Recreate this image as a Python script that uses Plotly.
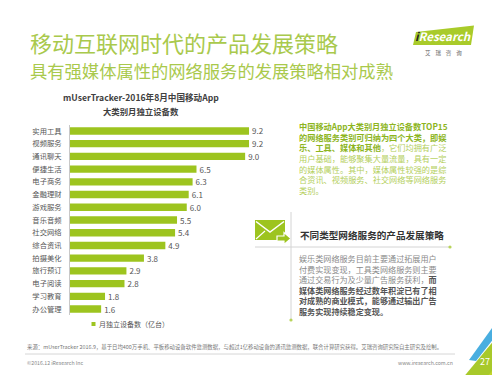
import plotly.graph_objects as go

categories = ["实用工具", "视频服务", "通讯聊天", "便捷生活", "电子商务", "金融理财", "游戏服务",
              "音乐音频", "社交网络", "综合资讯", "拍摄美化", "旅行预订", "电子阅读", "学习教育", "办公管理"]
values = [9.2, 9.2, 9.0, 6.5, 6.3, 6.1, 6.0, 5.5, 5.4, 4.9, 3.8, 2.9, 2.8, 1.8, 1.6]
series_name = "月独立设备数（亿台）"

W, H = 500, 375
OFF = 8  # the page body margin shifts the figure by 8px; compensate
FONT = "Noto Sans CJK SC"
BAR = "#9dc41f"
TITLE_G = "#a9c94c"


def X(px):
    return (px - OFF) / W


def Y(py):
    return 1 - (py - OFF) / H


fig = go.Figure()
fig.add_trace(go.Bar(
    y=categories, x=values, orientation="h", name=series_name,
    marker=dict(color=BAR, line=dict(width=0)),
    texttemplate="%{x:.1f}", textposition="outside", cliponaxis=False, constraintext="none",
    textfont=dict(size=8, color="#555555", family=FONT),
    showlegend=False,
))

ann = []


def add(text, x, y, size, color, xanchor="left", yanchor="middle", align="left"):
    ann.append(dict(text=text, x=X(x), y=Y(y), xref="paper", yref="paper",
                    xanchor=xanchor, yanchor=yanchor, align=align, showarrow=False,
                    font=dict(size=size, color=color, family=FONT)))


# main titles
add("移动互联网时代的产品发展策略", 28, 42, 22, TITLE_G)
add("具有强媒体属性的网络服务的发展策略相对成熟", 28, 70, 17.3, TITLE_G)

# chart title
add("<b>mUserTracker-2016年8月中国移动App</b>", 141, 97, 8.6, "#404040", xanchor="center")
add("<b>大类别月独立设备数</b>", 141, 111, 8.4, "#404040", xanchor="center")

# legend (manual)
add(series_name, 97, 324, 7, "#555555")

# right block
g1 = "#8db51e"
g2 = "#b4cf5c"
right_txt = (f"<b><span style='color:{g1}'>中国移动App大类别月独立设备数TOP15<br>"
             f"的网络服务类别可归纳为四个大类，即娱<br>"
             f"乐、工具、媒体和其他</span></b><span style='color:{g2}'>，它们均拥有广泛<br>"
             f"用户基础，能够聚集大量流量，具有一定<br>"
             f"的媒体属性。其中，媒体属性较强的是综<br>"
             f"合资讯、视频服务、社交网络等网络服务<br>"
             f"类别。</span>")
add(right_txt, 297, 158, 8.2, g2)

add("<b>不同类型网络服务的产品发展策略</b>", 298, 235, 9.6, "#333333")

body = ("<span style='color:#8a8a8a'>娱乐类网络服务目前主要通过拓展用户<br>"
        "付费实现变现，工具类网络服务则主要<br>"
        "通过交易行为及少量广告服务获利，</span><b><span style='color:#555555'>而<br>"
        "媒体类网络服务经过数年积淀已有了相<br>"
        "对成熟的商业模式，能够通过输出广告<br>"
        "服务实现持续稳定变现。</span></b>")
add(body, 297, 285, 8.1, "#8a8a8a")

# logo
add("<i><b><span style='color:#222'>i</span>Research</b></i>", 443, 36.5, 11.5, "white", xanchor="center")
add("艾    瑞    咨    询", 443, 53, 5.5, "#666666", xanchor="center")

# footer
add("来源：mUserTracker 2016.9，基于日均400万手机、平板移动设备软件监测数据，与超过1亿移动设备的通讯监测数据，联合计算研究获得。艾瑞咨询研究院自主研究及绘制。",
    25, 347, 5.4, "#777777")
add("©2016.12 iResearch Inc", 25, 362, 5.2, "#888888")
add("www.iresearch.com.cn", 455, 362, 5.2, "#888888", xanchor="right")

shapes = []


def path(d, fill, line_color=None, lw=0):
    shapes.append(dict(type="path", path=d, xref="paper", yref="paper", fillcolor=fill,
                       line=dict(color=line_color or fill, width=lw), layer="above"))


def P(x, y):
    return f"{X(x):.5f},{Y(y):.5f}"


# legend swatch
shapes.append(dict(type="rect", xref="paper", yref="paper", x0=X(91.5), x1=X(95.5), y0=Y(326), y1=Y(322),
                   fillcolor=BAR, line=dict(width=0)))

# logo parallelogram
path(f"M{P(416,32)} L{P(474,25.5)} L{P(471,45)} L{P(413,45)} Z", "#a9cb2a")

# envelope icon
shapes.append(dict(type="rect", xref="paper", yref="paper", x0=X(255), x1=X(285), y0=Y(240), y1=Y(220),
                   fillcolor=BAR, line=dict(width=0), layer="above"))
shapes.append(dict(type="path", path=f"M{P(256,221.5)} L{P(270,232)} L{P(284,221.5)}", xref="paper", yref="paper",
                   line=dict(color="white", width=1.5), layer="above"))
shapes.append(dict(type="path", path=f"M{P(256,239)} L{P(265,231)}", xref="paper", yref="paper",
                   line=dict(color="white", width=1.2), layer="above"))
path(f"M{P(277,236)} L{P(284,236)} L{P(284,232.5)} L{P(291,238.5)} L{P(284,244.5)} L{P(284,241)} L{P(277,241)} Z",
     BAR, "white", 1.2)

# divider lines
shapes.append(dict(type="line", xref="paper", yref="paper", x0=X(255), x1=X(450), y0=Y(247), y1=Y(247),
                   line=dict(color="#d4d4d4", width=1)))
shapes.append(dict(type="line", xref="paper", yref="paper", x0=X(291), x1=X(291), y0=Y(212), y1=Y(320),
                   line=dict(color="#d4d4d4", width=1)))
for (cx, cy) in [(450, 247), (291, 320)]:
    shapes.append(dict(type="circle", xref="paper", yref="paper", x0=X(cx - 1.6), x1=X(cx + 1.6),
                       y0=Y(cy + 1.6), y1=Y(cy - 1.6), fillcolor="#b8d45a", line=dict(width=0)))

# footer line
shapes.append(dict(type="line", xref="paper", yref="paper", x0=X(25), x1=X(455), y0=Y(354), y1=Y(354),
                   line=dict(color="#cccccc", width=0.8)))

# corner decoration (extends past the visible edge)
path(f"M{P(510,321)} L{P(510,385)} L{P(457,385)} Z", "#a8c92a")
path(f"M{P(510,350)} L{P(510,385)} L{P(480,385)} Z", "#c3d52c")
path(f"M{P(510,303)} L{P(510,318)} L{P(476,361)} L{P(469,360)} Z", "#49aee0")
add("27", 485, 361, 9, "white", xanchor="center")

fig.update_layout(
    width=W, height=H, margin=dict(l=0, r=0, t=0, b=0),
    paper_bgcolor="white", plot_bgcolor="white",
    font=dict(family=FONT, color="#555555"),
    bargap=0.42,
    xaxis=dict(domain=[X(70), X(264.6)], range=[0, 10], visible=False, fixedrange=True),
    yaxis=dict(domain=[Y(315.4), Y(124.6)], autorange="reversed", showline=True, linecolor="#c8c8c8",
               linewidth=1, ticks="", showgrid=False, zeroline=False, automargin=False,
               tickfont=dict(size=7.3, color="#555555", family=FONT), ticklabelstandoff=6),
    annotations=ann, shapes=shapes,
)

fig.write_html("out.html", config={"displayModeBar": False})
